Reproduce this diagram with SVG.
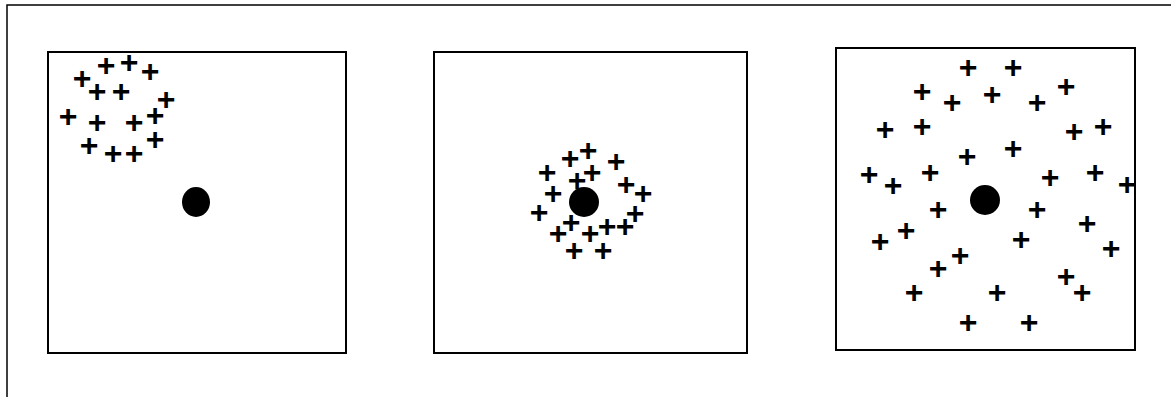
<svg xmlns="http://www.w3.org/2000/svg" width="1171" height="397" viewBox="0 0 1171 397">
<style>
.frame{fill:none;stroke:#000;stroke-width:1.5}
.box{fill:#fff;stroke:#000;stroke-width:2}
.dot{fill:#000}
.p{font-family:"Liberation Sans",Arial,sans-serif;font-weight:bold;font-size:32px;text-anchor:middle;fill:#000}
</style>
<rect width="1171" height="397" fill="#fff"/>
<rect class="frame" x="7" y="5" width="1170" height="400"/>
<g id="panel1">
<rect class="box" x="48" y="52" width="298" height="301"/>
<ellipse class="dot" cx="196" cy="202" rx="14" ry="15"/>
<g class="pts">
<text class="p" x="82" y="89">+</text>
<text class="p" x="106" y="76">+</text>
<text class="p" x="129" y="73">+</text>
<text class="p" x="150" y="82">+</text>
<text class="p" x="97" y="102">+</text>
<text class="p" x="121" y="102">+</text>
<text class="p" x="166" y="110">+</text>
<text class="p" x="68" y="127">+</text>
<text class="p" x="97" y="133">+</text>
<text class="p" x="134" y="133">+</text>
<text class="p" x="155" y="126">+</text>
<text class="p" x="89" y="156">+</text>
<text class="p" x="113" y="164">+</text>
<text class="p" x="134" y="164">+</text>
<text class="p" x="155" y="150">+</text>
</g>
</g>
<g id="panel2">
<rect class="box" x="434" y="52" width="313" height="301"/>
<circle class="dot" cx="584" cy="202" r="15"/>
<g class="pts">
<text class="p" x="588" y="161">+</text>
<text class="p" x="570" y="169">+</text>
<text class="p" x="616" y="172">+</text>
<text class="p" x="547" y="183">+</text>
<text class="p" x="577" y="191">+</text>
<text class="p" x="592" y="183">+</text>
<text class="p" x="626" y="195">+</text>
<text class="p" x="643" y="204">+</text>
<text class="p" x="553" y="204">+</text>
<text class="p" x="539" y="223">+</text>
<text class="p" x="635" y="224">+</text>
<text class="p" x="571" y="233">+</text>
<text class="p" x="558" y="244">+</text>
<text class="p" x="590" y="244">+</text>
<text class="p" x="607" y="237">+</text>
<text class="p" x="625" y="237">+</text>
<text class="p" x="574" y="261">+</text>
<text class="p" x="603" y="261">+</text>
</g>
</g>
<g id="panel3">
<rect class="box" x="836" y="48" width="299" height="302"/>
<circle class="dot" cx="985" cy="200" r="15"/>
<g class="pts">
<text class="p" x="968" y="78">+</text>
<text class="p" x="1013" y="78">+</text>
<text class="p" x="922" y="102">+</text>
<text class="p" x="952" y="113">+</text>
<text class="p" x="992" y="105">+</text>
<text class="p" x="1037" y="113">+</text>
<text class="p" x="1066" y="97">+</text>
<text class="p" x="885" y="140">+</text>
<text class="p" x="922" y="137">+</text>
<text class="p" x="1074" y="142">+</text>
<text class="p" x="1103" y="137">+</text>
<text class="p" x="967" y="167">+</text>
<text class="p" x="1013" y="159">+</text>
<text class="p" x="869" y="185">+</text>
<text class="p" x="893" y="196">+</text>
<text class="p" x="930" y="183">+</text>
<text class="p" x="1050" y="188">+</text>
<text class="p" x="1095" y="183">+</text>
<text class="p" x="1127" y="195">+</text>
<text class="p" x="938" y="220">+</text>
<text class="p" x="1037" y="220">+</text>
<text class="p" x="906" y="241">+</text>
<text class="p" x="880" y="252">+</text>
<text class="p" x="1087" y="234">+</text>
<text class="p" x="1021" y="250">+</text>
<text class="p" x="1111" y="259">+</text>
<text class="p" x="960" y="266">+</text>
<text class="p" x="938" y="279">+</text>
<text class="p" x="914" y="303">+</text>
<text class="p" x="997" y="303">+</text>
<text class="p" x="1066" y="287">+</text>
<text class="p" x="1082" y="303">+</text>
<text class="p" x="968" y="333">+</text>
<text class="p" x="1029" y="333">+</text>
</g>
</g>
</svg>
